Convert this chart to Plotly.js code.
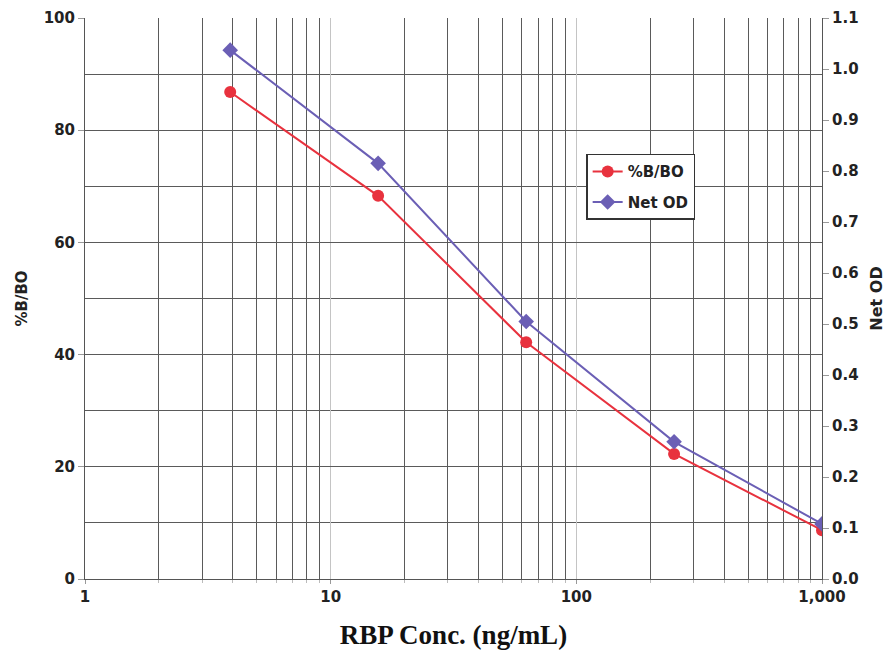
<!DOCTYPE html>
<html><head><meta charset="utf-8">
<script src="https://cdn.plot.ly/plotly-3.0.1.min.js"></script>
<style>body{margin:0;background:#fff}#c{width:891px;height:654px}</style>
</head><body><div id="c"></div>
<script>
const conc = [3.9, 15.6, 62.5, 250, 1000];
const pctB = [86.8, 68.3, 42.2, 22.3, 8.7];
const netOD = [1.037, 0.815, 0.505, 0.269, 0.108];
const xTickVals = [1, 10, 100, 1000];
const xTickText = ['1', '10', '100', '1,000'];
const xMinor = [2,3,4,5,6,7,8,9,20,30,40,50,60,70,80,90,200,300,400,500,600,700,800,900];

const sans = 'DejaVu Sans, Verdana, sans-serif';
const tickFont = {family: sans, size: 15, color: '#222', weight: 700};
const traces = [
  {x: conc, y: pctB, name: '%B/BO', mode: 'lines+markers', yaxis: 'y', legendgroup: 'a',
   line: {color: '#e8323e', width: 2}, marker: {symbol: 'circle', size: 12, color: '#e8323e'}},
  {x: conc, y: netOD, name: 'Net OD', mode: 'lines+markers', yaxis: 'y2', legendgroup: 'b',
   line: {color: '#6b5fb5', width: 2}, marker: {symbol: 'diamond', size: 12, color: '#6b5fb5'}}
];
const layout = {
  width: 891, height: 654,
  margin: {l: 85, r: 69, t: 18, b: 75},
  paper_bgcolor: '#fff', plot_bgcolor: '#fff',
  showlegend: true,
  legend: {x: 0.68, y: 0.758, xanchor: 'left', yanchor: 'top', bgcolor: '#fff',
    bordercolor: '#333', borderwidth: 1.5, font: {family: sans, size: 15, color: '#222', weight: 700},
    traceorder: 'grouped', tracegroupgap: 8},
  xaxis: {type: 'log', range: [0, 3], tickmode: 'array', tickvals: xTickVals, ticktext: xTickText,
    tickfont: tickFont, ticks: 'outside', ticklen: 4, tickcolor: '#999',
    showgrid: true, gridcolor: '#c4c4c4', gridwidth: 1,
    minor: {tickmode: 'array', tickvals: xMinor, showgrid: true, gridcolor: '#5a5a5a', gridwidth: 1, ticks: 'outside', ticklen: 3, tickcolor: '#bbb'},
    showline: true, linecolor: '#555', linewidth: 1, zeroline: false, mirror: false,
    title: {text: 'RBP Conc. (ng/mL)', font: {family: 'Liberation Serif, Times New Roman, serif', size: 27, color: '#111', weight: 700}, standoff: 20}},
  yaxis: {range: [0, 100], tickmode: 'linear', tick0: 0, dtick: 20,
    tickfont: tickFont, ticks: 'outside', ticklen: 6, tickcolor: '#999',
    showgrid: true, gridcolor: '#5a5a5a', gridwidth: 1,
    minor: {dtick: 10, showgrid: true, gridcolor: '#5a5a5a', gridwidth: 1},
    showline: true, linecolor: '#555', linewidth: 1, zeroline: false,
    title: {text: '%B/BO', font: {family: sans, size: 15, color: '#222', weight: 700}, standoff: 12}},
  yaxis2: {range: [0, 1.1], overlaying: 'y', side: 'right', tickmode: 'linear', tick0: 0, dtick: 0.1,
    tickformat: '.1f', tickfont: tickFont, ticks: 'outside', ticklen: 6, tickcolor: '#999',
    showgrid: false, showline: true, linecolor: '#555', linewidth: 1, zeroline: false,
    title: {text: 'Net OD', font: {family: sans, size: 16, color: '#222', weight: 700}, standoff: 13}}
};
Plotly.newPlot('c', traces, layout, {displayModeBar: false, staticPlot: true});
</script></body></html>
